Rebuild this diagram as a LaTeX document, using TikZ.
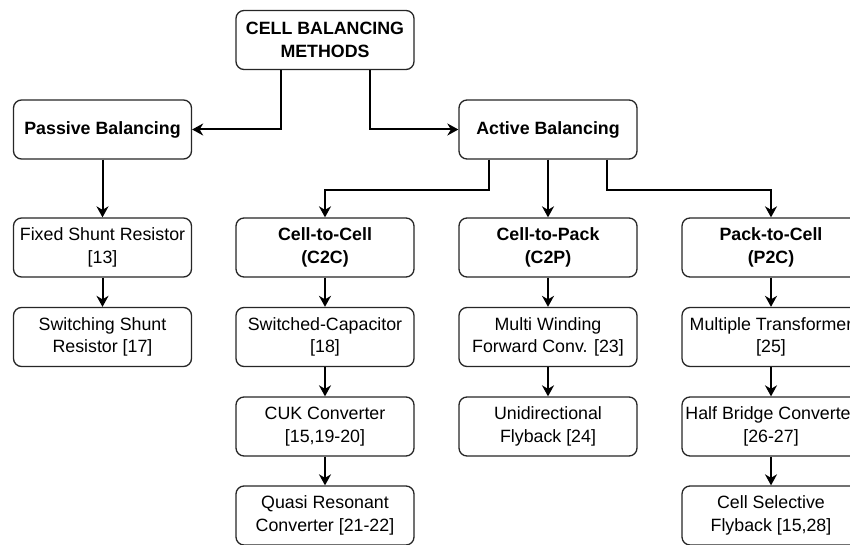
\documentclass[tikz,border=0pt]{standalone}
\usepackage{fontspec}
\setmainfont{Liberation Sans}
\usetikzlibrary{arrows.meta}
\begin{document}
\begin{tikzpicture}[x=1pt,y=-1pt,
  box/.style={draw=black!85, line width=1.3pt, rounded corners=8pt, fill=white,
    minimum width=178pt, minimum height=59pt, align=center, inner sep=0pt,
    font=\fontsize{17.8}{22.3}\selectfont},
  bbox/.style={box, font=\fontsize{17.8}{22.3}\selectfont\bfseries},
  arr/.style={line width=2pt, -{Stealth[length=11pt,width=12pt,inset=3.5pt]}}]
\useasboundingbox (0,0) rectangle (850,545);
\clip (0,0) rectangle (850,545);
% top level
\node[bbox] (cbm) at (325,40) {CELL BALANCING\\METHODS};
\node[bbox] (pas) at (102.5,129.5) {Passive Balancing};
\node[bbox] (act) at (548,129.5) {Active Balancing};
% passive column
\node[box] (fsr) at (102.5,247.5) {Fixed Shunt Resistor\\{}[13]};
\node[box] (ssr) at (102.5,337) {Switching Shunt\\Resistor [17]};
% C2C column
\node[bbox] (c2c) at (325,247.5) {Cell-to-Cell\\(C2C)};
\node[box] (sc) at (325,337) {Switched-Capacitor\\{}[18]};
\node[box] (cuk) at (325,426.5) {CUK Converter\\{}[15,19-20]};
\node[box] (qr) at (325,515.5) {Quasi Resonant\\Converter [21-22]};
% C2P column
\node[bbox] (c2p) at (548,247.5) {Cell-to-Pack\\(C2P)};
\node[box] (mw) at (548,337) {Multi Winding\\Forward Conv. [23]};
\node[box] (uf) at (548,426.5) {Unidirectional\\Flyback [24]};
% P2C column
\node[bbox] (p2c) at (771,247.5) {Pack-to-Cell\\(P2C)};
\node[box] (mt) at (771,337) {Multiple Transformer\\{}[25]};
\node[box] (hb) at (771,426.5) {Half Bridge Converter\\{}[26-27]};
\node[box] (cs) at (771,515.5) {Cell Selective\\Flyback [15,28]};
% connectors
\draw[arr] ([xshift=-44pt]cbm.south) |- (pas.east);
\draw[arr] ([xshift=45pt]cbm.south) |- (act.west);
\draw[arr] ([xshift=-59pt]act.south) -- ++(0,30) -| (c2c.north);
\draw[arr] (act.south) -- (c2p.north);
\draw[arr] ([xshift=59pt]act.south) -- ++(0,30) -| (p2c.north);
\draw[arr] (pas) -- (fsr);
\draw[arr] (fsr) -- (ssr);
\draw[arr] (c2c) -- (sc);
\draw[arr] (sc) -- (cuk);
\draw[arr] (cuk) -- (qr);
\draw[arr] (c2p) -- (mw);
\draw[arr] (mw) -- (uf);
\draw[arr] (p2c) -- (mt);
\draw[arr] (mt) -- (hb);
\draw[arr] (hb) -- (cs);
\end{tikzpicture}
\end{document}
